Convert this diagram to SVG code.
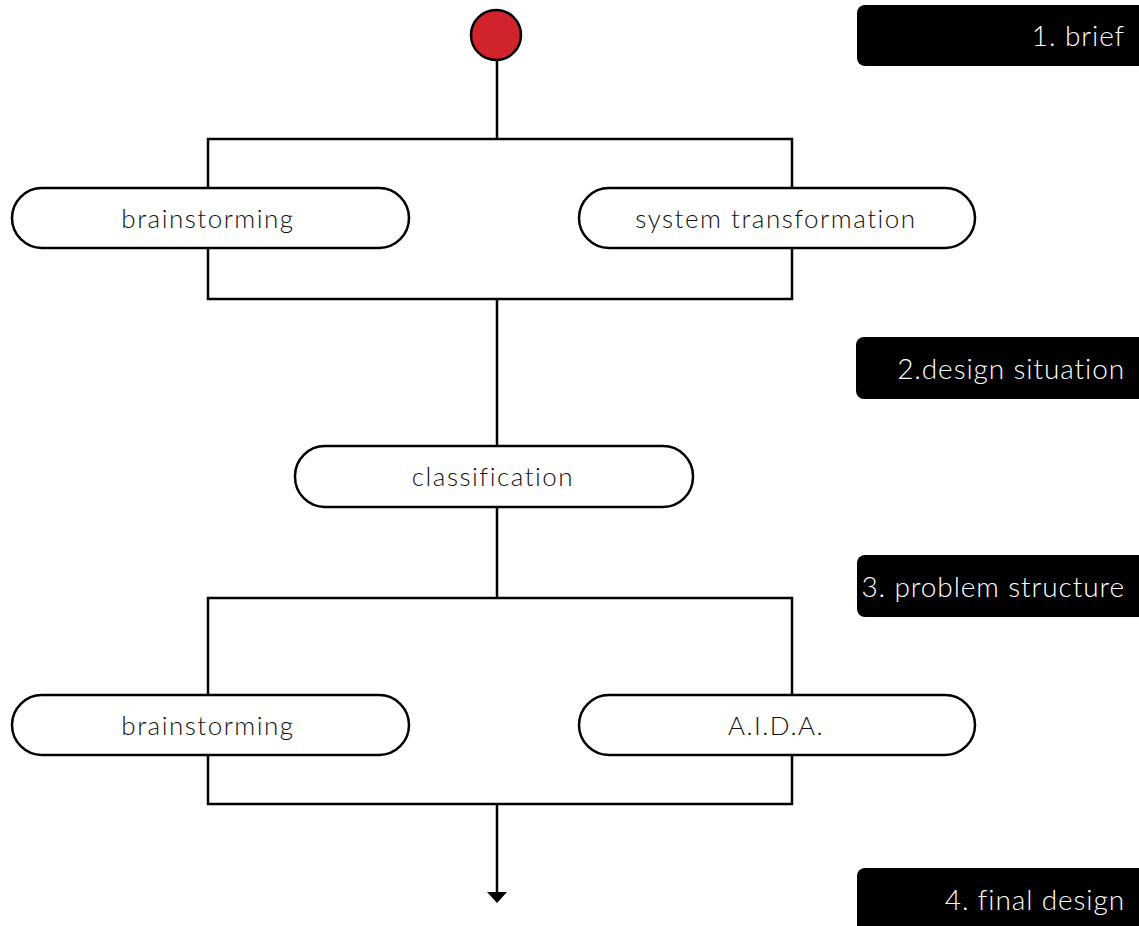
<svg xmlns="http://www.w3.org/2000/svg" width="1139" height="926" viewBox="0 0 1139 926">
<style>
.pill{fill:#fff;stroke:#000;stroke-width:2.5}
.box{fill:none;stroke:#000;stroke-width:2.5}
.ln{fill:none;stroke:#000;stroke-width:2.5}
.t{font-family:Lato,"Liberation Sans",sans-serif;font-weight:300;font-size:26px;letter-spacing:1.5px;fill:#111;text-anchor:middle}
.tag{fill:#000}
.tt{font-family:Lato,"Liberation Sans",sans-serif;font-weight:300;font-size:28px;letter-spacing:0.9px;fill:#fff;text-anchor:end}
</style>
<rect width="1139" height="926" fill="#fff"/>
<g id="connectors">
<line class="ln" x1="497" y1="61" x2="497" y2="139"/>
<rect class="box" x="208" y="139" width="584" height="160"/>
<line class="ln" x1="497" y1="299" x2="497" y2="446"/>
<line class="ln" x1="497" y1="507" x2="497" y2="598"/>
<rect class="box" x="208" y="598" width="584" height="206"/>
<line class="ln" x1="497" y1="804" x2="497" y2="893"/>
<path d="M487,892 L507,892 L497,903 z" fill="#000"/>
</g>
<g id="start"><circle cx="496" cy="35" r="25" fill="#d1232b" stroke="#000" stroke-width="2.5"/></g>
<g id="n-brain1"><rect class="pill" x="12" y="188" width="397" height="60" rx="30"/><text class="t" x="208" y="228">brainstorming</text></g>
<g id="n-system"><rect class="pill" x="579" y="188" width="396" height="60" rx="30"/><text class="t" x="776" y="228">system transformation</text></g>
<g id="n-class"><rect class="pill" x="295" y="446" width="398" height="61" rx="30"/><text class="t" x="493" y="486">classification</text></g>
<g id="n-brain2"><rect class="pill" x="12" y="695" width="397" height="60" rx="30"/><text class="t" x="208" y="735">brainstorming</text></g>
<g id="n-aida"><rect class="pill" x="579" y="695" width="396" height="60" rx="30"/><text class="t" x="776" y="735">A.I.D.A.</text></g>
<g id="tag1"><rect class="tag" x="857" y="5" width="300" height="61" rx="8"/><text class="tt" x="1125" y="46">1. brief</text></g>
<g id="tag2"><rect class="tag" x="856" y="337" width="300" height="62" rx="8"/><text class="tt" x="1125" y="379">2.design situation</text></g>
<g id="tag3"><rect class="tag" x="857" y="555" width="300" height="62" rx="8"/><text class="tt" x="1125" y="597">3. problem structure</text></g>
<g id="tag4"><rect class="tag" x="857" y="868" width="300" height="70" rx="8"/><text class="tt" x="1125" y="910">4. final design</text></g>
</svg>
